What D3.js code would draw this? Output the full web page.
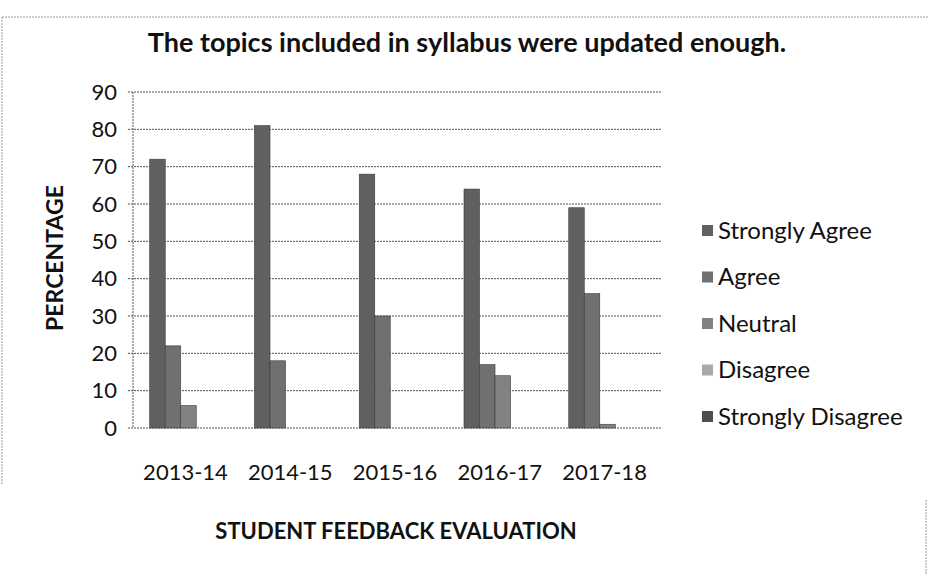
<!DOCTYPE html>
<html>
<head>
<meta charset="utf-8">
<script src="https://cdn.jsdelivr.net/npm/d3@7"></script>
<style>
  body { margin: 0; background: #fff; }
  svg { display: block; font-family: Lato, "Open Sans", sans-serif; }
</style>
</head>
<body>
<div class="container"></div>
<script>
var W = 928, H = 575;
var years = ["2013-14", "2014-15", "2015-16", "2016-17", "2017-18"];
var series = ["Strongly Agree", "Agree", "Neutral", "Disagree", "Strongly Disagree"];
var stronglyAgree = [72, 81, 68, 64, 59];
var agree = [22, 18, 30, 17, 36];
var neutral = [6, 0, 0, 14, 1];
var disagree = [0, 0, 0, 0, 0];
var stronglyDisagree = [0, 0, 0, 0, 0];
var yTicks = [0, 10, 20, 30, 40, 50, 60, 70, 80, 90];
var greys = ["#606060", "#707070", "#828282", "#a9a9a9", "#4e4e4e"];

var values = [stronglyAgree, agree, neutral, disagree, stronglyDisagree];

var svg = d3.select(".container").append("svg")
  .attr("width", W).attr("height", H);

// scanned page frame
var frame = svg.append("g").attr("stroke", "#9a9a9a").attr("stroke-dasharray", "2,1");
frame.append("line").attr("x1", 2).attr("y1", 17).attr("x2", 928).attr("y2", 17);
frame.append("line").attr("x1", 2).attr("y1", 17).attr("x2", 2).attr("y2", 485);
frame.append("line").attr("x1", 926).attr("y1", 500).attr("x2", 926).attr("y2", 575);

var plotLeft = 133, plotRight = 662, plotTop = 92, plotBottom = 428;

var x0 = d3.scaleBand().domain(years).range([plotLeft + 3, plotRight - 2])
  .paddingInner(0.26).paddingOuter(0.131);
var x1 = d3.scaleBand().domain(series).range([0, x0.bandwidth()]);
var y = d3.scaleLinear().domain([0, 90]).range([plotBottom, plotTop]);

// gridlines
svg.append("g").selectAll("line").data(yTicks).join("line")
  .attr("x1", plotLeft - 5).attr("x2", plotRight)
  .attr("y1", function(d){ return y(d); }).attr("y2", function(d){ return y(d); })
  .attr("stroke", "#555").attr("stroke-width", 1).attr("stroke-dasharray", "2,1");

svg.append("line")
  .attr("x1", plotLeft).attr("x2", plotLeft).attr("y1", plotTop).attr("y2", plotBottom)
  .attr("stroke", "#555").attr("stroke-dasharray", "2,1");

// y axis labels
var yAxis = svg.append("g")
  .attr("transform", "translate(" + plotLeft + ",0)")
  .call(d3.axisLeft(y).tickValues(yTicks).tickSize(0).tickPadding(16));
yAxis.select(".domain").remove();
yAxis.selectAll("text").attr("font-size", 22).attr("fill", "#111").attr("font-family", "Lato");

// bars
var groups = svg.append("g").selectAll("g").data(years).join("g")
  .attr("transform", function(d){ return "translate(" + x0(d) + ",0)"; });

groups.selectAll("rect")
  .data(function(d, i){ return series.map(function(s, j){ return {s: s, j: j, v: values[j][i]}; }); })
  .join("rect")
  .attr("x", function(d){ return x1(d.s); })
  .attr("width", x1.bandwidth())
  .attr("y", function(d){ return y(d.v); })
  .attr("height", function(d){ return y(0) - y(d.v); })
  .attr("fill", function(d){ return greys[d.j]; })
  .attr("stroke", "#3a3a3a").attr("stroke-width", 0.6);

// x labels
var xAxis = svg.append("g")
  .attr("transform", "translate(0," + plotBottom + ")")
  .call(d3.axisBottom(x0).tickSize(0).tickPadding(36));
xAxis.select(".domain").remove();
xAxis.selectAll("text").attr("font-size", 22).attr("fill", "#111").attr("font-family", "Lato")
  .attr("dx", -3);

// titles
svg.append("text")
  .attr("x", 467).attr("y", 52).attr("text-anchor", "middle")
  .attr("font-size", 27).attr("font-weight", "bold").attr("fill", "#111")
  .text("The topics included in syllabus were updated enough.");

svg.append("text")
  .attr("transform", "translate(63,258) rotate(-90)").attr("text-anchor", "middle")
  .attr("font-size", 23).attr("font-weight", "bold").attr("fill", "#111")
  .text("PERCENTAGE");

svg.append("text")
  .attr("x", 396).attr("y", 539).attr("text-anchor", "middle")
  .attr("font-size", 22).attr("font-weight", "bold").attr("fill", "#111")
  .text("STUDENT FEEDBACK EVALUATION");

// legend
var legend = svg.append("g").selectAll("g").data(series).join("g")
  .attr("transform", function(d, i){ return "translate(702," + (230 + i * 46.5) + ")"; });
legend.append("rect")
  .attr("x", 0).attr("y", -5).attr("width", 11).attr("height", 11)
  .attr("fill", function(d, i){ return greys[i]; });
legend.append("text")
  .attr("x", 16).attr("dy", "0.36em")
  .attr("font-size", 24).attr("fill", "#111")
  .text(function(d){ return d; });
</script>
</body>
</html>
